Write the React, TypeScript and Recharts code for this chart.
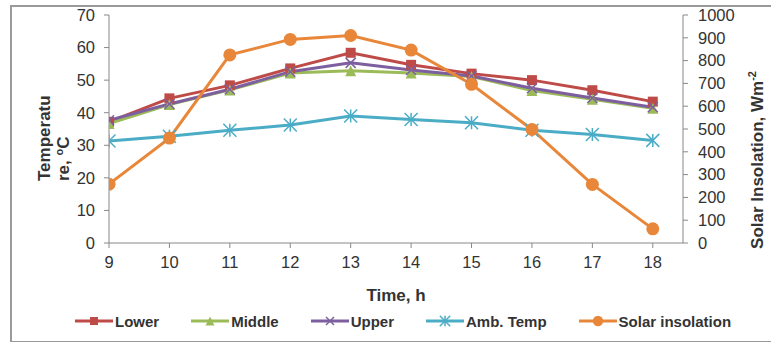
import React from "react";
import { Legend, Line, LineChart, XAxis, YAxis } from "recharts";

const hours = [9, 10, 11, 12, 13, 14, 15, 16, 17, 18];
const lowerTemp = [37.2, 44.4, 48.4, 53.6, 58.4, 54.7, 52.0, 50.0, 46.9, 43.4];
const middleTemp = [36.7, 42.5, 47.0, 52.2, 52.9, 52.2, 51.1, 46.8, 44.1, 41.4];
const upperTemp = [37.7, 42.7, 47.2, 52.6, 55.3, 53.1, 51.3, 47.5, 44.5, 41.7];
const ambientTemp = [31.3, 32.8, 34.6, 36.2, 39.0, 37.9, 36.9, 34.6, 33.3, 31.5];
const solarInsolation = [258, 460, 825, 893, 910, 846, 696, 498, 257, 62];

const tempTicks = [0, 10, 20, 30, 40, 50, 60, 70];
const solarTicks = [0, 100, 200, 300, 400, 500, 600, 700, 800, 900, 1000];

const data = hours.map((time, i) => ({
  time,
  lower: lowerTemp[i],
  middle: middleTemp[i],
  upper: upperTemp[i],
  ambient: ambientTemp[i],
  solar: solarInsolation[i],
}));

const RED = "#BE4B48";
const GREEN = "#9BBB59";
const PURPLE = "#7D5FA0";
const TEAL = "#4BACC6";
const ORANGE = "#E8873A";
const AXIS = "#888888";
const TEXT = "#333333";
const FONT = "'Liberation Sans', Arial, sans-serif";

function Marker({ kind, cx, cy, color, s = 1 }: any) {
  if (cx == null || cy == null) return null;
  if (kind === "square") {
    const h = 5 * s;
    return <rect x={cx - h} y={cy - h} width={h * 2} height={h * 2} fill={color} />;
  }
  if (kind === "triangle") {
    const h = 5.5 * s;
    return <polygon points={`${cx},${cy - h} ${cx + h},${cy + h} ${cx - h},${cy + h}`} fill={color} />;
  }
  if (kind === "cross") {
    const h = 5 * s;
    return (
      <g stroke={color} strokeWidth={1.5}>
        <line x1={cx - h} y1={cy - h} x2={cx + h} y2={cy + h} />
        <line x1={cx - h} y1={cy + h} x2={cx + h} y2={cy - h} />
      </g>
    );
  }
  if (kind === "star") {
    const h = 6.5 * s;
    return (
      <g stroke={color} strokeWidth={1.5}>
        <line x1={cx - h} y1={cy - h} x2={cx + h} y2={cy + h} />
        <line x1={cx - h} y1={cy + h} x2={cx + h} y2={cy - h} />
        <line x1={cx} y1={cy - h} x2={cx} y2={cy + h} />
      </g>
    );
  }
  return <circle cx={cx} cy={cy} r={6.5 * s} fill={color} />;
}

const seriesList = [
  { key: "lower", name: "Lower", color: RED, kind: "square", axis: "temp" },
  { key: "middle", name: "Middle", color: GREEN, kind: "triangle", axis: "temp" },
  { key: "upper", name: "Upper", color: PURPLE, kind: "cross", axis: "temp" },
  { key: "ambient", name: "Amb. Temp", color: TEAL, kind: "star", axis: "temp" },
  { key: "solar", name: "Solar insolation", color: ORANGE, kind: "circle", axis: "solar" },
];

function LegendContent() {
  return (
    <div style={{ height: 36, paddingTop: 5, boxSizing: "border-box", display: "flex", paddingLeft: 75, gap: 32 }}>
      {seriesList.map((s) => (
        <div key={s.key} style={{ display: "flex", alignItems: "center", height: 20 }}>
          <svg width={38} height={20} style={{ display: "block" }}>
            <line x1={0} y1={10} x2={38} y2={10} stroke={s.color} strokeWidth={3} />
            <Marker kind={s.kind} cx={19} cy={10} color={s.color} s={0.8} />
          </svg>
          <span style={{ fontFamily: FONT, fontSize: 15, fontWeight: "bold", color: TEXT, marginLeft: 2 }}>{s.name}</span>
        </div>
      ))}
    </div>
  );
}

function TempLabel() {
  return (
    <g fontFamily={FONT} fontSize={17} fontWeight="bold" fill={TEXT}>
      <text x={50} y={181} transform="rotate(-90 50 181)" textAnchor="start">Temperatu</text>
      <text x={69} y={181} transform="rotate(-90 69 181)" textAnchor="start">
        re, <tspan dy={-6} fontSize={11}>o</tspan><tspan dy={6}>C</tspan>
      </text>
    </g>
  );
}

function SolarLabel() {
  return (
    <g fontFamily={FONT} fontSize={17} fontWeight="bold" fill={TEXT}>
      <text x={763} y={160} transform="rotate(-90 763 160)" textAnchor="middle">
        Solar Insolation, Wm<tspan dy={-7} fontSize={11}>-2</tspan>
      </text>
    </g>
  );
}

export default function App() {
  const tick = { fontFamily: FONT, fontSize: 16.5, fill: TEXT };
  return (
    <div style={{ position: "absolute", left: 0, top: 0, width: 771, height: 342, background: "#fff", overflow: "hidden" }}>
      <div
        style={{
          position: "absolute",
          left: 10,
          top: 5,
          width: 800,
          height: 334,
          border: "2px solid #9a9a9a",
        }}
      />
      <LineChart width={771} height={342} data={data} margin={{ top: 15, right: 0, bottom: 0, left: 0 }}>
        <XAxis
          dataKey="time"
          type="number"
          domain={[9, 18.5]}
          ticks={hours}
          interval={0}
          allowDataOverflow
          height={63}
          tickSize={5}
          tickMargin={8}
          tick={tick}
          stroke={AXIS}
          label={{ value: "Time, h", position: "insideBottom", offset: 5, fontFamily: FONT, fontSize: 17, fontWeight: "bold", fill: TEXT }}
        />
        <YAxis
          yAxisId="temp"
          domain={[0, 70]}
          ticks={tempTicks}
          interval={0}
          width={109}
          tickSize={5}
          tickMargin={9}
          tick={tick}
          stroke={AXIS}
          label={<TempLabel />}
        />
        <YAxis
          yAxisId="solar"
          orientation="right"
          domain={[0, 1000]}
          ticks={solarTicks}
          interval={0}
          width={88}
          tickSize={5}
          tickMargin={10}
          tick={{ ...tick, textAnchor: "start" }}
          stroke={AXIS}
          label={<SolarLabel />}
        />
        <Legend verticalAlign="bottom" content={<LegendContent />} />
        {seriesList.map((s) => (
          <Line
            key={s.key}
            yAxisId={s.axis}
            dataKey={s.key}
            name={s.name}
            type="linear"
            stroke={s.color}
            strokeWidth={3}
            isAnimationActive={false}
            dot={(p: any) => <Marker key={`${s.key}-${p.index}`} kind={s.kind} cx={p.cx} cy={p.cy} color={s.color} />}
            activeDot={false}
          />
        ))}
      </LineChart>
    </div>
  );
}
